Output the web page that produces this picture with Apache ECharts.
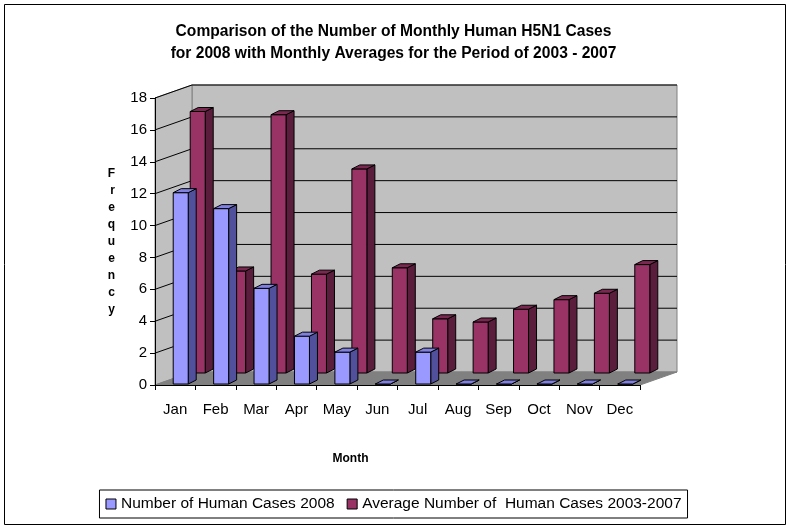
<!DOCTYPE html>
<html>
<head>
<meta charset="utf-8">
<script src="https://cdn.jsdelivr.net/npm/echarts@6/dist/echarts.min.js"></script>
<style>
  html, body { margin: 0; padding: 0; background: #fff; }
  #chart { width: 787px; height: 528px; }
</style>
</head>
<body>
<div id="chart"></div>
<script>
const months = ['Jan', 'Feb', 'Mar', 'Apr', 'May', 'Jun', 'Jul', 'Aug', 'Sep', 'Oct', 'Nov', 'Dec'];
const cases2008 = [12, 11, 6, 3, 2, 0, 2, 0, 0, 0, 0, 0];
const avg20032007 = [16.4, 6.4, 16.2, 6.2, 12.8, 6.6, 3.4, 3.2, 4.0, 4.6, 5.0, 6.8];
const yTicks = [0, 2, 4, 6, 8, 10, 12, 14, 16, 18];

const FONT = "'Liberation Sans', Arial, sans-serif";
// depth of the "floor" (oblique offset of back wall)
const DEPTH = [37, -13];

// walls + floor drawn from grid extent
function renderWalls(params, api) {
  const cs = params.coordSys;
  const L = cs.x, R = cs.x + cs.width, T = cs.y, B = cs.y + cs.height;
  const dx = DEPTH[0], dy = DEPTH[1];
  const kids = [];
  // back wall
  kids.push({ type: 'polygon', shape: { points: [[L + dx, T + dy], [R + dx, T + dy], [R + dx, B + dy], [L + dx, B + dy]] },
    style: { fill: '#c0c0c0', stroke: '#808080', lineWidth: 1 } });
  // left wall
  kids.push({ type: 'polygon', shape: { points: [[L, T], [L + dx, T + dy], [L + dx, B + dy], [L, B]] },
    style: { fill: '#c0c0c0', stroke: '#808080', lineWidth: 1 } });
  // floor
  kids.push({ type: 'polygon', shape: { points: [[L, B], [R, B], [R + dx, B + dy], [L + dx, B + dy]] },
    style: { fill: '#808080', stroke: '#808080', lineWidth: 1 } });
  yTicks.forEach(function (v) {
    if (v === 0) return;
    const y = api.coord([0, v])[1];
    kids.push({ type: 'polyline', shape: { points: [[L, y], [L + dx, y + dy], [R + dx, y + dy]] },
      style: { stroke: '#000', lineWidth: 1, fill: null } });
  });
  return { type: 'group', children: kids };
}

function boxRenderer(front, side, top, offX, offY) {
  return function (params, api) {
    const ci = api.value(0), v = api.value(1);
    const base = api.coord([ci, 0]);
    const tp = api.coord([ci, v]);
    const x0 = base[0] + offX, x1 = x0 + 15;
    const yb = base[1] + offY, yt = tp[1] + offY;
    const dx = 8, dy = -4;
    const st = { stroke: '#000', lineWidth: 1 };
    return {
      type: 'group',
      children: [
        { type: 'polygon', shape: { points: [[x1, yb], [x1, yt], [x1 + dx, yt + dy], [x1 + dx, yb + dy]] },
          style: Object.assign({ fill: side }, st) },
        { type: 'polygon', shape: { points: [[x0, yb], [x1, yb], [x1, yt], [x0, yt]] },
          style: Object.assign({ fill: front }, st) },
        { type: 'polygon', shape: { points: [[x0, yt], [x1, yt], [x1 + dx, yt + dy], [x0 + dx, yt + dy]] },
          style: Object.assign({ fill: top }, st) }
      ]
    };
  };
}

const chart = echarts.init(document.getElementById('chart'));
const option = {
  animation: false,
  backgroundColor: '#fff',
  textStyle: { fontFamily: FONT },
  title: {
    text: 'Comparison of the Number of Monthly Human H5N1 Cases\nfor 2008 with Monthly Averages for the Period of 2003 - 2007',
    left: 'center',
    top: 16,
    textStyle: { fontFamily: FONT, fontSize: 15.6, fontWeight: 'bold', color: '#000', lineHeight: 22 }
  },
  graphic: [{
    type: 'rect', left: 2, top: 2,
    shape: { width: 781, height: 520 },
    style: { fill: null, stroke: '#000', lineWidth: 1 },
    silent: true
  }],
  legend: {
    bottom: 10,
    left: 'center',
    itemWidth: 10,
    itemHeight: 10,
    itemGap: 12,
    padding: [6, 6],
    borderColor: '#000',
    borderWidth: 1,
    textStyle: { fontFamily: FONT, fontSize: 15.5, color: '#000' },
    data: [
      { name: 'Number of Human Cases 2008', icon: 'rect', itemStyle: { color: '#9999ff', borderColor: '#000', borderWidth: 1 } },
      { name: 'Average Number of  Human Cases 2003-2007', icon: 'rect', itemStyle: { color: '#993366', borderColor: '#000', borderWidth: 1 } }
    ]
  },
  grid: { left: 155, right: 147, top: 98, bottom: 143 },
  xAxis: {
    type: 'category',
    data: months,
    name: 'Month',
    nameLocation: 'middle',
    nameGap: 68,
    nameTextStyle: { fontFamily: FONT, fontSize: 12, fontWeight: 'bold', color: '#000', padding: [0, 94, 0, 0] },
    axisLine: { lineStyle: { color: '#000', width: 1 } },
    axisTick: { show: true, length: 5, lineStyle: { color: '#000' } },
    axisLabel: { fontFamily: FONT, fontSize: 15, color: '#000', margin: 17 },
    splitLine: { show: false },
    z: 5
  },
  yAxis: {
    type: 'value',
    min: 0,
    max: 18,
    interval: 2,
    name: 'F\nr\ne\nq\nu\ne\nn\nc\ny',
    nameLocation: 'middle',
    nameRotate: 0,
    nameGap: 40,
    nameTextStyle: { fontFamily: FONT, fontSize: 12, fontWeight: 'bold', color: '#000', lineHeight: 17 },
    axisLine: { show: true, lineStyle: { color: '#000', width: 1 } },
    axisTick: { show: true, length: 5, lineStyle: { color: '#000' } },
    axisLabel: { fontFamily: FONT, fontSize: 15, color: '#000', margin: 8 },
    splitLine: { show: false },
    z: 5
  },
  series: [
    {
      type: 'custom',
      name: 'walls',
      silent: true,
      z: 1,
      renderItem: renderWalls,
      data: [[0, 0]]
    },
    {
      type: 'custom',
      name: 'Average Number of  Human Cases 2003-2007',
      itemStyle: { color: '#993366' },
      z: 2,
      renderItem: boxRenderer('#993366', '#5a1e3c', '#7a2850', 15, -12),
      encode: { x: 0, y: 1 },
      data: avg20032007.map(function (v, i) { return [i, v]; })
    },
    {
      type: 'custom',
      name: 'Number of Human Cases 2008',
      itemStyle: { color: '#9999ff' },
      z: 3,
      renderItem: boxRenderer('#9999ff', '#50509c', '#8080e0', -2, -1),
      encode: { x: 0, y: 1 },
      data: cases2008.map(function (v, i) { return [i, v]; })
    }
  ]
};
chart.setOption(option);
</script>
</body>
</html>
